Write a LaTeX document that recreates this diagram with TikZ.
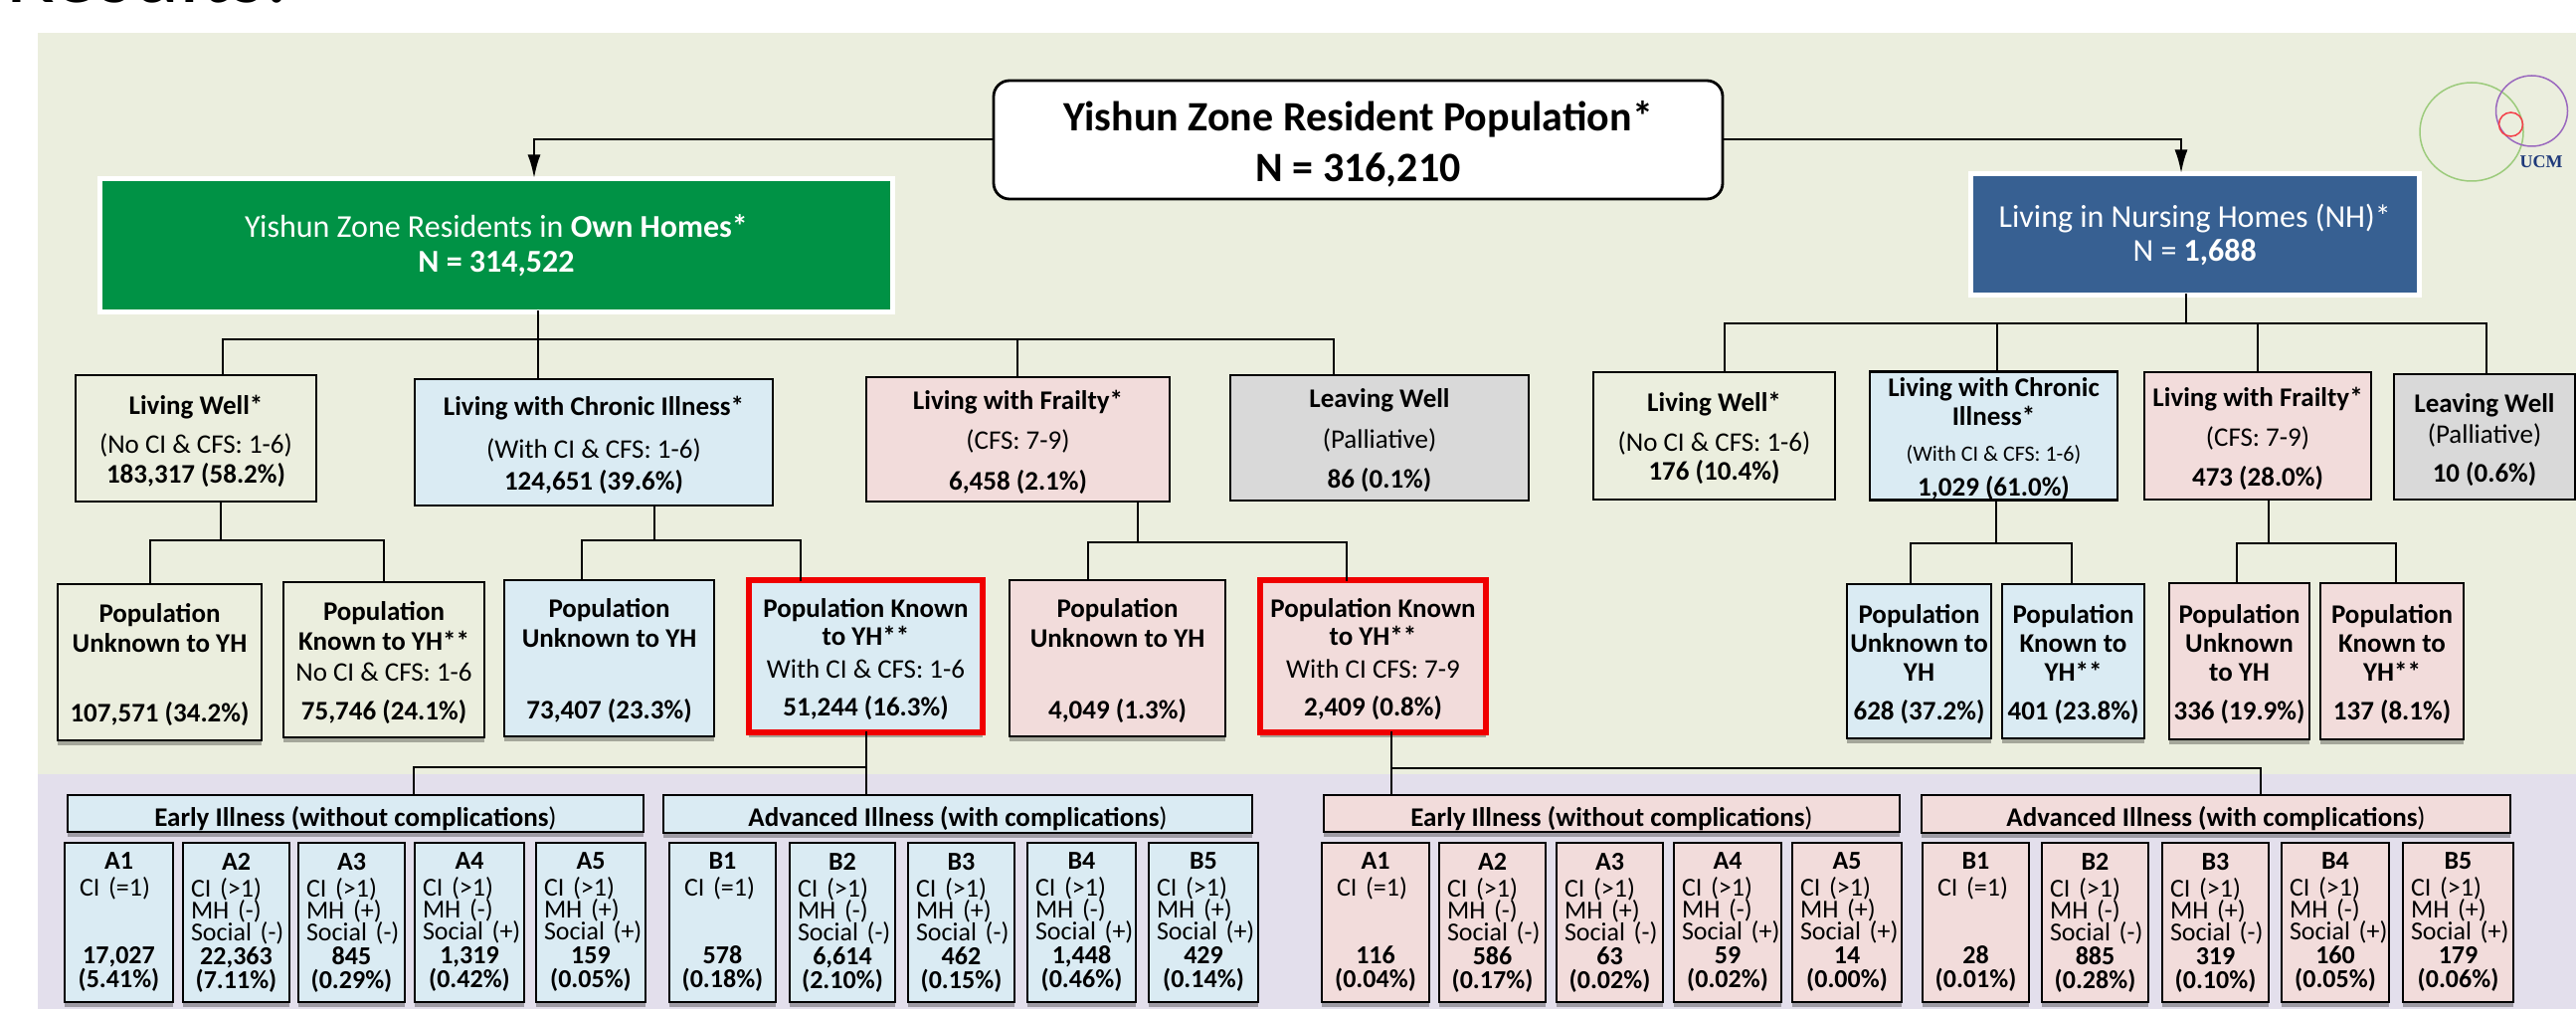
\documentclass[tikz,border=0pt]{standalone}
\usepackage{fontspec}
\setmainfont{Carlito}
\usetikzlibrary{arrows.meta,shadows}
\definecolor{bggreen}{HTML}{EBEEDE}
\definecolor{bgpurple}{HTML}{E3DFEC}
\definecolor{cblue}{HTML}{DAEBF3}
\definecolor{cpink}{HTML}{F2DCDB}
\definecolor{cgrey}{HTML}{D9D9D9}
\definecolor{cgreen}{HTML}{009245}
\definecolor{cnavy}{HTML}{376092}
\definecolor{cred}{HTML}{F00000}
\definecolor{ucmblue}{HTML}{1F3A7A}
\definecolor{lgreen}{HTML}{9CCB7C}
\definecolor{lviolet}{HTML}{9A68BE}
\definecolor{lred}{HTML}{F4404A}
\newcommand{\fs}[1]{\fontsize{#1}{#1}\selectfont}
\tikzset{
 every node/.style={inner sep=0pt,outer sep=0pt},
 conn/.style={draw=black,line width=2.8pt,line cap=rect,line join=miter},
 arr/.style={conn,line cap=butt,-{Latex[length=24pt,width=13pt]}},
 boxbase/.style={draw=black,line width=2.8pt,align=center,text=black,font=\fs{27}},
 shad/.style={drop shadow={shadow xshift=0pt,shadow yshift=-5pt,opacity=.3,fill=black}},
 fgreen/.style={boxbase,fill=bggreen},
 fblue/.style={boxbase,fill=cblue},
 fpink/.style={boxbase,fill=cpink},
 fgrey/.style={boxbase,fill=cgrey},
 redblue/.style={boxbase,fill=cblue,draw=cred,line width=6pt},
 redpink/.style={boxbase,fill=cpink,draw=cred,line width=6pt},
 whiteout/.style={draw=white,line width=5pt,align=center,text=white,font=\fs{32}},
 logo/.style={line width=1.5pt},
}
\newcommand{\bxpre}{}
% \bx[style]{name}{x1}{y1}{x2}{y2}{text}
\newcommand{\bx}[7][]{%
 \pgfmathsetmacro{\bxcx}{(#3+#5)/2}\pgfmathsetmacro{\bxcy}{(#4+#6)/2}%
 \pgfmathsetmacro{\bxw}{#5-#3}\pgfmathsetmacro{\bxh}{#6-#4}%
 \node[#1,minimum width=\bxw pt,minimum height=\bxh pt] (#2) at (\bxcx,\bxcy) {\bxpre #7};}
% sub-group cell: style name x1 x2 title l1 l2 l3 num-pct
\newcommand{\cell}[9]{%
 \pgfmathsetmacro{\cw}{#4-#3}%
 \bx[#1,shad,align=left,text width=\cw pt,font=\fs{26}]{#2}{#3}{847}{#4}{1007}{%
  \makebox[\linewidth][c]{\textbf{#5}}\\[1pt]%
  \hspace*{\cind pt}#6\\[-4pt]\hspace*{\cind pt}#7\\[-4pt]\hspace*{\cind pt}#8\\[-2pt]#9}}
\newcommand{\numpct}[2]{\makebox[\linewidth][c]{\textbf{#1}}\\[-2pt]\makebox[\linewidth][c]{\textbf{#2}}}
\begin{document}
\begin{tikzpicture}[x=1pt,y=-1pt]
\useasboundingbox (0,0) rectangle (2590,1016);
\fill[white] (0,0) rectangle (2590,1016);
\begin{scope}
\clip (0,0) rectangle (2590,1016);
\node[anchor=base west,font=\fs{90},text=black] (hdr) at (6,3) {Results:};
\end{scope}
\fill[bggreen] (38,33) rectangle (2590,778);
\fill[bgpurple] (38,778) rectangle (2590,1014);
% logo
\draw[logo,draw=lgreen] (2485,132.5) ellipse [x radius=52,y radius=49.5];
\draw[logo,draw=lviolet] (2545.5,111.5) ellipse [x radius=36,y radius=35.5];
\draw[logo,draw=lred] (2524.5,125) ellipse [x radius=12,y radius=12];
\node[font=\fontsize{18}{18}\selectfont\bfseries\fontspec{Liberation Serif},text=ucmblue] (ucm) at (2555,163) {UCM};
% connector way-points
\coordinate (arL) at (537,140); \coordinate (arR) at (2193,140);
\coordinate (gT) at (541,341); \coordinate (gA) at (224,341); \coordinate (gC) at (1023,341); \coordinate (gD) at (1341,341);
\coordinate (hT) at (2198,325); \coordinate (hA) at (1734,325); \coordinate (hB) at (2008,325); \coordinate (hC) at (2270,325); \coordinate (hD) at (2500,325);
\coordinate (aT) at (222,543); \coordinate (aL) at (151,543); \coordinate (aR) at (386,543);
\coordinate (bT) at (658,543); \coordinate (bL) at (585,543); \coordinate (bR) at (805,543);
\coordinate (cT) at (1144,545); \coordinate (cL) at (1094,545); \coordinate (cR) at (1354,545);
\coordinate (dT) at (2007,546); \coordinate (dL) at (1921,546); \coordinate (dR) at (2083,546);
\coordinate (eT) at (2281,546); \coordinate (eL) at (2249,546); \coordinate (eR) at (2409,546);
\coordinate (fT) at (871,771); \coordinate (fL) at (416,771);
\coordinate (kT) at (1399,772); \coordinate (kR) at (2273,772);
% top
\bx[whiteout,fill=cgreen]{own}{100.5}{179.5}{897.5}{313.5}{Yishun Zone Residents in \textbf{Own Homes*}\\[3pt]\textbf{N = 314,522}}
\bx[whiteout,fill=cnavy]{nh}{1981.5}{174.5}{2432}{296.5}{Living in Nursing Homes (NH)*\\[2pt]N = \textbf{1,688}}
\renewcommand{\bxpre}{\rule{0pt}{.9em}}
\bx[boxbase,fill=white,rounded corners=16pt,font=\fs{42}]{top}{999}{81}{1732}{200}{\textbf{Yishun Zone Resident Population*}\\[9pt]\textbf{N = 316,210}}
% level 2 own
\bx[fgreen]{lw}{76}{377}{318}{504}{\textbf{Living Well*}\\[12pt](No CI \& CFS: 1-6)\\[3pt]\textbf{183,317 (58.2\%)}}
\bx[fblue]{lc}{417}{381}{777}{508}{\textbf{Living with Chronic Illness*}\\[16pt](With CI \& CFS: 1-6)\\[5pt]\textbf{124,651 (39.6\%)}}
\bx[fpink]{lf}{871}{379}{1176}{504}{\textbf{Living with Frailty*}\\[13pt](CFS: 7-9)\\[14pt]\textbf{6,458 (2.1\%)}}
\bx[fgrey]{lv}{1237}{377}{1537}{503}{\textbf{Leaving Well}\\[14pt](Palliative)\\[13pt]\textbf{86 (0.1\%)}}
% level 2 NH
\bx[fgreen]{nw}{1602}{374}{1845}{502}{\textbf{Living Well*}\\[13pt](No CI \& CFS: 1-6)\\[2pt]\textbf{176 (10.4\%)}}
\bx[fblue]{nc}{1880}{374}{2129}{502}{\textbf{Living with Chronic}\\[2pt]\textbf{Illness*}\\[9pt]{\fs{22}(With CI \& CFS: 1-6)}\\[8pt]\textbf{1,029 (61.0\%)}}
\bx[fpink]{nf}{2156}{374}{2384}{502}{\textbf{Living with Frailty*}\\[13pt](CFS: 7-9)\\[13pt]\textbf{473 (28.0\%)}}
\bx[fgrey]{nl}{2407}{376}{2589}{502}{\textbf{Leaving Well}\\[4pt](Palliative)\\[12pt]\textbf{10 (0.6\%)}}
% population level
\bx[fgreen,shad]{pa}{58}{587}{263}{744}{\textbf{Population}\\[3pt]\textbf{Unknown to YH}\\[43pt]\textbf{107,571 (34.2\%)}}
\bx[fgreen,shad]{pb}{285}{585}{487}{741}{\textbf{Population}\\[3pt]\textbf{Known to YH**}\\[4pt]No CI \& CFS: 1-6\\[12pt]\textbf{75,746 (24.1\%)}}
\bx[fblue,shad]{pc}{507}{583}{718}{740}{\textbf{Population}\\[3pt]\textbf{Unknown to YH}\\[45pt]\textbf{73,407 (23.3\%)}}
\bx[redblue,shad]{pd}{753}{583}{988}{736}{\textbf{Population Known}\\[1pt]\textbf{to YH**}\\[6pt]With CI \& CFS: 1-6\\[11pt]\textbf{51,244 (16.3\%)}}
\bx[fpink,shad]{pe}{1015}{583}{1232}{740}{\textbf{Population}\\[3pt]\textbf{Unknown to YH}\\[45pt]\textbf{4,049 (1.3\%)}}
\bx[redpink,shad]{pf}{1267}{583}{1494}{736}{\textbf{Population Known}\\[1pt]\textbf{to YH**}\\[6pt]With CI CFS: 7-9\\[11pt]\textbf{2,409 (0.8\%)}}
\bx[fblue,shad]{na}{1857}{587}{2002}{742}{\textbf{Population}\\[2pt]\textbf{Unknown to}\\[2pt]\textbf{YH}\\[12pt]\textbf{628 (37.2\%)}}
\bx[fblue,shad]{nb}{2013}{587}{2156}{742}{\textbf{Population}\\[2pt]\textbf{Known to}\\[2pt]\textbf{YH**}\\[12pt]\textbf{401 (23.8\%)}}
\bx[fpink,shad]{nd}{2181}{586}{2322}{743}{\textbf{Population}\\[2pt]\textbf{Unknown}\\[2pt]\textbf{to YH}\\[12pt]\textbf{336 (19.9\%)}}
\bx[fpink,shad]{ne}{2333}{586}{2477}{743}{\textbf{Population}\\[2pt]\textbf{Known to}\\[2pt]\textbf{YH**}\\[12pt]\textbf{137 (8.1\%)}}
% bands
\renewcommand{\bxpre}{\rule{0pt}{1.1em}}
\bx[fblue,shad]{ea}{68}{799}{647}{836}{\textbf{Early Illness (without complications})}
\bx[fblue,shad]{eb}{667}{799}{1259}{837}{\textbf{Advanced Illness (with complications})}
\bx[fpink,shad]{ec}{1331}{799}{1910}{836}{\textbf{Early Illness (without complications})}
\bx[fpink,shad]{ed}{1932}{799}{2524}{837}{\textbf{Advanced Illness (with complications})}
% cells
\renewcommand{\bxpre}{}
\def\cind{15}
\cell{fblue}{ca}{65}{174}{A1}{CI (=1)}{}{}{\numpct{17,027}{(5.41\%)}}
\cell{fblue}{cf}{673}{780}{B1}{CI (=1)}{}{}{\numpct{578}{(0.18\%)}}
\cell{fpink}{da}{1329}{1437}{A1}{CI (=1)}{}{}{\numpct{116}{(0.04\%)}}
\cell{fpink}{df}{1933}{2040}{B1}{CI (=1)}{}{}{\numpct{28}{(0.01\%)}}
\def\cind{8}
\cell{fblue}{cb}{184}{291}{A2}{CI (>1)}{MH (-)}{Social (-)}{\numpct{22,363}{(7.11\%)}}
\cell{fblue}{cc}{300}{407}{A3}{CI (>1)}{MH (+)}{Social (-)}{\numpct{845}{(0.29\%)}}
\cell{fblue}{cd}{417}{527}{A4}{CI (>1)}{MH (-)}{Social (+)}{\numpct{1,319}{(0.42\%)}}
\cell{fblue}{ce}{539}{649}{A5}{CI (>1)}{MH (+)}{Social (+)}{\numpct{159}{(0.05\%)}}
\cell{fblue}{cg}{794}{900}{B2}{CI (>1)}{MH (-)}{Social (-)}{\numpct{6,614}{(2.10\%)}}
\cell{fblue}{ch}{913}{1020}{B3}{CI (>1)}{MH (+)}{Social (-)}{\numpct{462}{(0.15\%)}}
\cell{fblue}{ci}{1033}{1142}{B4}{CI (>1)}{MH (-)}{Social (+)}{\numpct{1,448}{(0.46\%)}}
\cell{fblue}{cj}{1155}{1265}{B5}{CI (>1)}{MH (+)}{Social (+)}{\numpct{429}{(0.14\%)}}
\cell{fpink}{db}{1447}{1554}{A2}{CI (>1)}{MH (-)}{Social (-)}{\numpct{586}{(0.17\%)}}
\cell{fpink}{dc}{1565}{1672}{A3}{CI (>1)}{MH (+)}{Social (-)}{\numpct{63}{(0.02\%)}}
\cell{fpink}{dd}{1683}{1791}{A4}{CI (>1)}{MH (-)}{Social (+)}{\numpct{59}{(0.02\%)}}
\cell{fpink}{de}{1802}{1912}{A5}{CI (>1)}{MH (+)}{Social (+)}{\numpct{14}{(0.00\%)}}
\cell{fpink}{dg}{2053}{2160}{B2}{CI (>1)}{MH (-)}{Social (-)}{\numpct{885}{(0.28\%)}}
\cell{fpink}{dh}{2174}{2281}{B3}{CI (>1)}{MH (+)}{Social (-)}{\numpct{319}{(0.10\%)}}
\cell{fpink}{di}{2294}{2402}{B4}{CI (>1)}{MH (-)}{Social (+)}{\numpct{160}{(0.05\%)}}
\cell{fpink}{dj}{2416}{2527}{B5}{CI (>1)}{MH (+)}{Social (+)}{\numpct{179}{(0.06\%)}}
% connectors
\draw[arr] (top.west |- arL) -- (arL) -- (arL |- own.north);
\draw[arr] (top.east |- arR) -- (arR) -- (arR |- nh.north);
\draw[conn] (own.south -| gT) -- (gT);
\draw[conn] (gA |- lw.north) -- (gA) -- (gD) -- (gD |- lv.north);
\draw[conn] (gT) -- (gT |- lc.north);
\draw[conn] (gC) -- (gC |- lf.north);
\draw[conn] (nh.south -| hT) -- (hT);
\draw[conn] (hA |- nw.north) -- (hA) -- (hD) -- (hD |- nl.north);
\draw[conn] (hB) -- (hB |- nc.north);
\draw[conn] (hC) -- (hC |- nf.north);
\draw[conn] (lw.south -| aT) -- (aT);
\draw[conn] (aL |- pa.north) -- (aL) -- (aR) -- (aR |- pb.north);
\draw[conn] (lc.south -| bT) -- (bT);
\draw[conn] (bL |- pc.north) -- (bL) -- (bR) -- (bR |- pd.north);
\draw[conn] (lf.south -| cT) -- (cT);
\draw[conn] (cL |- pe.north) -- (cL) -- (cR) -- (cR |- pf.north);
\draw[conn] (nc.south -| dT) -- (dT);
\draw[conn] (dL |- na.north) -- (dL) -- (dR) -- (dR |- nb.north);
\draw[conn] (nf.south -| eT) -- (eT);
\draw[conn] (eL |- nd.north) -- (eL) -- (eR) -- (eR |- ne.north);
\draw[conn] (pd.south -| fT) -- (fT |- eb.north);
\draw[conn] (fL |- ea.north) -- (fL) -- (fT);
\draw[conn] (pf.south -| kT) -- (kT |- ec.north);
\draw[conn] (kT) -- (kR) -- (kR |- ed.north);
\end{tikzpicture}
\end{document}
